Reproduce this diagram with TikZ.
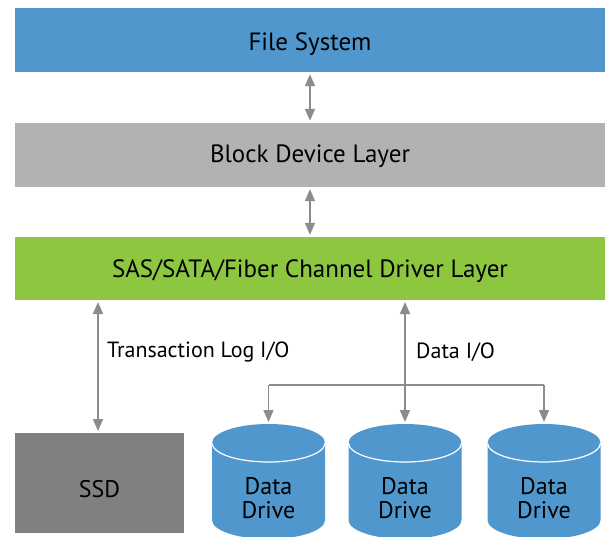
\documentclass[tikz,border=0pt]{standalone}
\usepackage{fontspec}
\setmainfont{PT Sans}
\usetikzlibrary{arrows.meta}
\definecolor{fsblue}{HTML}{4F97CC}
\definecolor{bdgray}{HTML}{B2B2B2}
\definecolor{drvgreen}{HTML}{8DC63F}
\definecolor{ssdgray}{HTML}{808080}
\definecolor{arrgray}{HTML}{8C8C8C}
\tikzset{
  layer/.style={rectangle, minimum width=590pt, minimum height=64pt, inner sep=0pt},
  bigtxt/.style={font=\fontsize{25}{28}\selectfont, inner sep=0pt},
  conn/.style={draw=arrgray, line width=1.6pt, -{Triangle[length=12pt,width=10pt]}},
  biconn/.style={conn, {Triangle[length=12pt,width=10pt]}-{Triangle[length=12pt,width=10pt]}},
  lbl/.style={font=\fontsize{22}{24}\selectfont, anchor=west, inner sep=0pt},
  drvtxt/.style={font=\fontsize{24}{24}\selectfont, align=center, inner sep=0pt}
}
\begin{document}
\begin{tikzpicture}[x=1pt,y=1pt]
\useasboundingbox (0,0) rectangle (607,-537);
\node[layer, fill=fsblue] (fs) at (310,-40) {};
\node[bigtxt] (fstxt) at (310,-44) {File System};
\node[layer, fill=bdgray] (bdl) at (310,-155) {};
\node[bigtxt] (bdltxt) at (310,-156) {Block Device Layer};
\node[layer, fill=drvgreen, minimum height=63pt] (drv) at (310,-268.5) {};
\node[bigtxt] (drvtxt) at (310,-271) {SAS/SATA/Fiber Channel Driver Layer};
\node[rectangle, fill=ssdgray, minimum width=169pt, minimum height=100pt, inner sep=0pt] (ssd) at (99.5,-483) {};
\node[font=\fontsize{24}{24}\selectfont, inner sep=0pt] (ssdtxt) at (99.5,-489) {SSD};
% cylinders
\foreach \cx/\nm in {268.5/d1, 405/d2, 544/d3}{
  \fill[fsblue] (\cx-56.5,-443) -- (\cx-56.5,-520) arc (180:360:56.5 and 19) -- (\cx+56.5,-443) arc (0:180:56.5 and 19) -- cycle;
  \draw[white, line width=1.2pt] (\cx-56.5,-443) arc (180:360:56.5 and 19);
  \node[drvtxt] (\nm) at (\cx,-498) {Data\\Drive};
  \coordinate (\nm top) at (\cx,-422);
}
\coordinate (ssdtop) at (98,-431);
\coordinate (bl) at (268.5,-385);
\coordinate (br) at (544,-385);
\draw[biconn] ([yshift=-2pt]fs.south) -- ([yshift=2pt]bdl.north);
\draw[biconn] ([yshift=-2pt]bdl.south) -- ([yshift=2pt]drv.north);
\draw[biconn] (98,-302) -- (ssdtop);
\draw[biconn] (405,-302) -- (d2top);
\draw[draw=arrgray, line width=1.6pt] (bl) -- (br);
\draw[conn] (bl) -- (d1top);
\draw[conn] (br) -- (d3top);
\node[lbl] (tlog) at (107,-352) {Transaction Log I/O};
\node[lbl] (dio) at (416,-352) {Data I/O};
\end{tikzpicture}
\end{document}
